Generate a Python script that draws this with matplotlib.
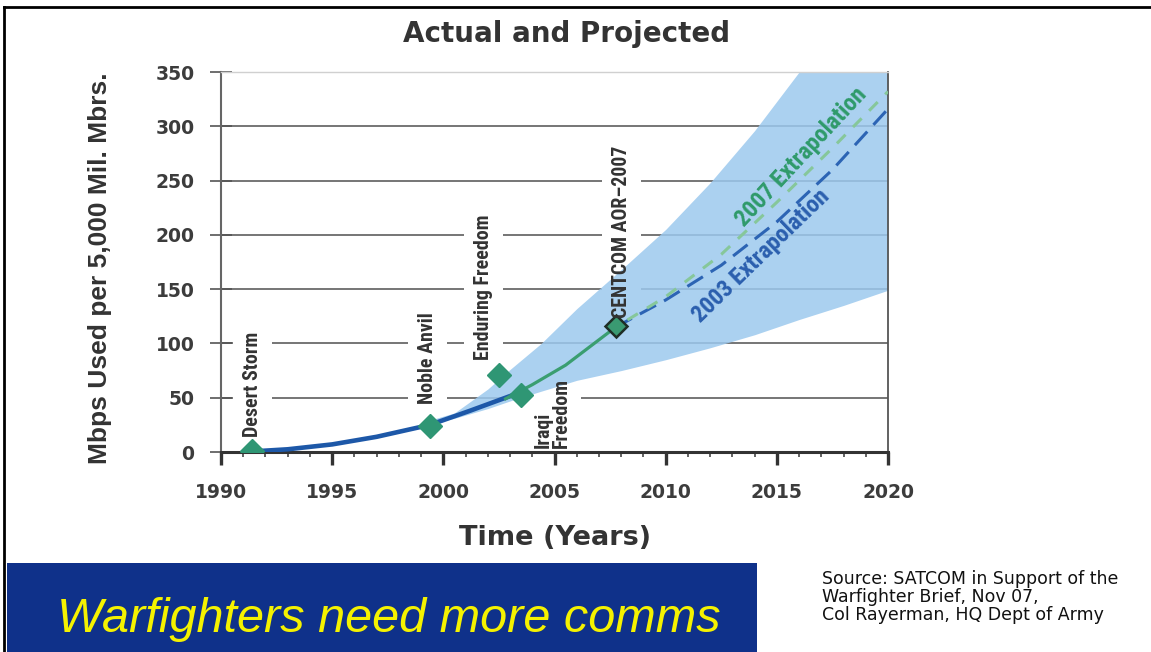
import matplotlib
matplotlib.use("Agg")
import matplotlib.pyplot as plt
import matplotlib.font_manager as fm
from matplotlib.patches import Rectangle
from matplotlib.lines import Line2D
from matplotlib.ticker import MultipleLocator

# ---------------- data ----------------
actual_years = [1991.4, 1993.0, 1995.0, 1997.0, 1999.4, 2001.2, 2003.2]
actual_mbps = [0.5, 2.5, 7.0, 14.0, 25.0, 38.0, 53.0]

recent_years = [2002.8, 2004.0, 2005.5, 2007.75]
recent_mbps = [49.0, 62.0, 80.0, 115.0]

proj_years = [2007.75, 2010.0, 2012.5, 2015.0, 2017.5, 2020.0]
proj_2003 = [115, 140, 172, 212, 260, 316]
proj_2007 = [115, 143, 182, 230, 280, 332]

band_years = [1999.0, 2000.5, 2002.0, 2003.0, 2004.4, 2006.0, 2008.0,
              2010.0, 2012.0, 2014.0, 2016.0, 2018.0, 2020.0]
band_upper = [27, 36, 58, 76, 100, 132, 168, 205, 248, 296, 350, 405, 460]
band_lower = [24, 31, 40, 47, 56, 66, 75, 85, 96, 108, 122, 135, 149]

event_names = ["Desert Storm", "Noble Anvil", "Enduring Freedom",
               "Iraqi\nFreedom", "CENTCOM AOR\u20132007"]
event_years = [1991.4, 1999.4, 2002.5, 2003.5, 2007.75]
event_mbps = [1, 24, 71, 52.5, 116]

x_ticks = [1990, 1995, 2000, 2005, 2010, 2015, 2020]
y_ticks = [0, 50, 100, 150, 200, 250, 300, 350]

title = "Actual and Projected"
x_label = "Time (Years)"
y_label = "Mbps Used per 5,000 Mil. Mbrs."
banner_text = "Warfighters need more comms"
source_lines = ["Source: SATCOM in Support of the",
                "Warfighter Brief, Nov 07,",
                "Col Rayerman, HQ Dept of Army"]

# ---------------- fonts ----------------
names = {f.name for f in fm.fontManager.ttflist}
NARROW = "Liberation Sans"
EVT_SIZE = 12.5
for cand, sz in [("Liberation Sans Narrow", 14.5), ("Roboto Condensed", 14.3),
                 ("Open Sans Condensed", 14.0)]:
    if cand in names:
        NARROW, EVT_SIZE = cand, sz
        break
EXT_SIZE = EVT_SIZE * 1.2

W, H = 1151, 652
fig = plt.figure(figsize=(W / 100, H / 100), dpi=100)
fig.patch.set_facecolor("white")

def fx(px):
    return px / W

def fy(py):
    return 1 - py / H

ax = fig.add_axes([fx(221), fy(452), fx(888) - fx(221), fy(72) - fy(452)])
ax.set_xlim(1990, 2020)
ax.set_ylim(0, 350)

# gridlines
for v in y_ticks[1:-1]:
    ax.axhline(v, color="#5e5e5e", lw=1.2, zorder=0.5)

# label white boxes (under band, over gridlines)
lab_pos = [(1991.4, 13.8), (1999.3, 44), (2001.8, 85), (2004.9, 4), (2008.0, 123)]
for name, (lx, ly) in zip(event_names, lab_pos):
    ax.text(lx, ly, name, rotation=90, ha="center", va="bottom",
            fontsize=EVT_SIZE, family=NARROW, fontweight="bold", color="none",
            linespacing=1.0, multialignment="left",
            bbox=dict(boxstyle="square,pad=0.5", fc="white", ec="none"),
            zorder=1.5)

# projection band
ax.fill_between(band_years, band_lower, band_upper, color="#9cc9ee",
                alpha=0.85, lw=0, zorder=2)

# lines
ax.plot(actual_years, actual_mbps, color="#1d58a8", lw=3.3,
        solid_capstyle="round", solid_joinstyle="round", zorder=3)
ax.plot(proj_years, proj_2003, color="#2c64b4", lw=2.2,
        linestyle=(0, (6, 3)), zorder=3)
ax.plot(proj_years, proj_2007, color="#86c79a", lw=2.2,
        linestyle=(3, (4, 3.5)), zorder=3.1)
ax.plot(recent_years, recent_mbps, color="#3a9e70", lw=2.3,
        solid_joinstyle="round", zorder=3.2)

# event markers
ax.plot(event_years[:-1], event_mbps[:-1], linestyle="none", marker="D",
        ms=12.5, mfc="#2f9674", mec="#2f9674", zorder=5)
ax.plot(event_years[-1:], event_mbps[-1:], linestyle="none", marker="D",
        ms=11.5, mfc="#3a9a72", mec="#1e2e26", mew=1.8, zorder=5)

# label texts
for name, (lx, ly) in zip(event_names, lab_pos):
    ax.text(lx, ly, name, rotation=90, ha="center", va="bottom",
            fontsize=EVT_SIZE, family=NARROW, fontweight="bold", color="#333333",
            linespacing=1.0, multialignment="left", zorder=6)

# extrapolation labels
ax.text(2016.1, 271.7, "2007 Extrapolation", rotation=47, rotation_mode="anchor",
        ha="center", va="center", fontsize=EXT_SIZE, family=NARROW, fontweight="bold",
        color="#2f9a6a", zorder=6)
ax.text(2014.3, 180.5, "2003 Extrapolation", rotation=44, rotation_mode="anchor",
        ha="center", va="center", fontsize=EXT_SIZE, family=NARROW, fontweight="bold",
        color="#2b5fae", zorder=6)

# axes styling
ax.set_xticks(x_ticks)
ax.set_yticks(y_ticks)
ax.xaxis.set_minor_locator(MultipleLocator(1))
ax.tick_params(axis="y", direction="inout", length=16, width=1.2, color="#555555",
               pad=11, labelsize=13.5, labelcolor="#3c3c3c")
ax.tick_params(axis="x", which="major", direction="out", length=9, width=2.4,
               color="#333333", pad=13, labelsize=13.5, labelcolor="#3c3c3c")
ax.tick_params(axis="x", which="minor", direction="out", length=3.5, width=1.3,
               color="#555555")
for lbl in ax.get_xticklabels() + ax.get_yticklabels():
    lbl.set_fontfamily("DejaVu Sans")
    lbl.set_fontweight("bold")

ax.spines["left"].set_color("#666666")
ax.spines["left"].set_linewidth(1.5)
ax.spines["bottom"].set_color("#333333")
ax.spines["bottom"].set_linewidth(2.2)
ax.spines["right"].set_color("#555555")
ax.spines["right"].set_linewidth(1.3)
ax.spines["top"].set_color("#d0d0d0")
ax.spines["top"].set_linewidth(1.0)

# titles
fig.text(fx(567), fy(42), title, ha="center", va="baseline", fontsize=20,
         family="DejaVu Sans", fontweight="bold", color="#333333")
fig.text(fx(555), fy(545), x_label, ha="center", va="baseline", fontsize=19.5,
         family="DejaVu Sans", fontweight="bold", color="#333333")
fig.text(fx(100), fy(268), y_label, ha="center", va="center", rotation=90,
         fontsize=19, family="Liberation Sans", fontweight="bold", color="#333333")

# banner
fig.add_artist(Rectangle((fx(7), 0), fx(757) - fx(7), fy(563), transform=fig.transFigure,
                         facecolor="#0f318a", edgecolor="none", zorder=1))
fig.text(fx(57), fy(632), banner_text, ha="left", va="baseline", fontsize=35,
         family="Liberation Sans", style="italic", color="#f5f200", zorder=2)

# source
for i, line in enumerate(source_lines):
    fig.text(fx(822), fy(584 + 18 * i), line, ha="left", va="baseline",
             fontsize=12.5, family="DejaVu Sans", color="#111111")

# frame
fig.add_artist(Line2D([fx(4), 1], [fy(7), fy(7)], transform=fig.transFigure,
                      color="black", lw=2))
fig.add_artist(Line2D([fx(4), fx(4)], [0, fy(7)], transform=fig.transFigure,
                      color="black", lw=2))

fig.savefig("out.png", dpi=100)
